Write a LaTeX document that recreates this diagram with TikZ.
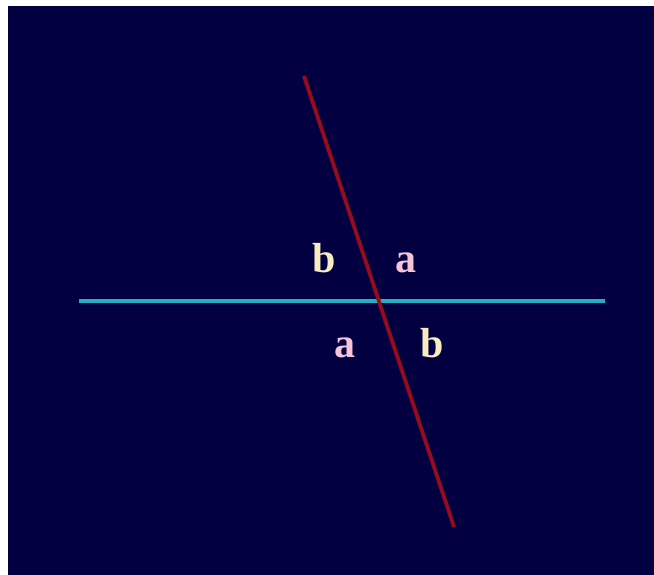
\documentclass[tikz,border=0pt]{standalone}
\usepackage{fontspec}
\setmainfont{Liberation Serif}
\usetikzlibrary{positioning}
\definecolor{NightBlue}{RGB}{3,0,66}
\definecolor{LineRed}{RGB}{150,12,24}
\definecolor{LineCyan}{RGB}{36,176,196}
\definecolor{SoftCream}{RGB}{246,236,192}
\definecolor{SoftPink}{RGB}{246,196,216}
\tikzset{
  transversal/.style={draw=LineRed,line width=3.8pt},
  crossline/.style={draw=LineCyan,line width=3.8pt},
  anglelbl/.style={inner sep=0pt,anchor=base,
    font=\fontsize{42}{42}\selectfont\bfseries},
  anglea/.style={anglelbl,text=SoftPink},
  angleb/.style={anglelbl,text=SoftCream}
}

\begin{document}
\begin{tikzpicture}[x=1pt,y=1pt]
      \useasboundingbox (0,0) rectangle (654,575);
      \fill[NightBlue] (8,0) rectangle (654,569);
      \coordinate (rtop) at (304,499);
      \coordinate (rbot) at (454,48);
      \coordinate (cleft) at (79,274);
      \coordinate (cright) at (605,274);
      \draw[crossline] (cleft) -- (cright);
      \draw[transversal] (rtop) -- (rbot);
      \node[angleb] (b1) at (324,302) {b};
      \node[anglea] (a1) at (406,302) {a};
      \node[anglea] (a2) at (345,217) {a};
      \node[angleb] (b2) at (432,217) {b};
    \end{tikzpicture}
\end{document}
